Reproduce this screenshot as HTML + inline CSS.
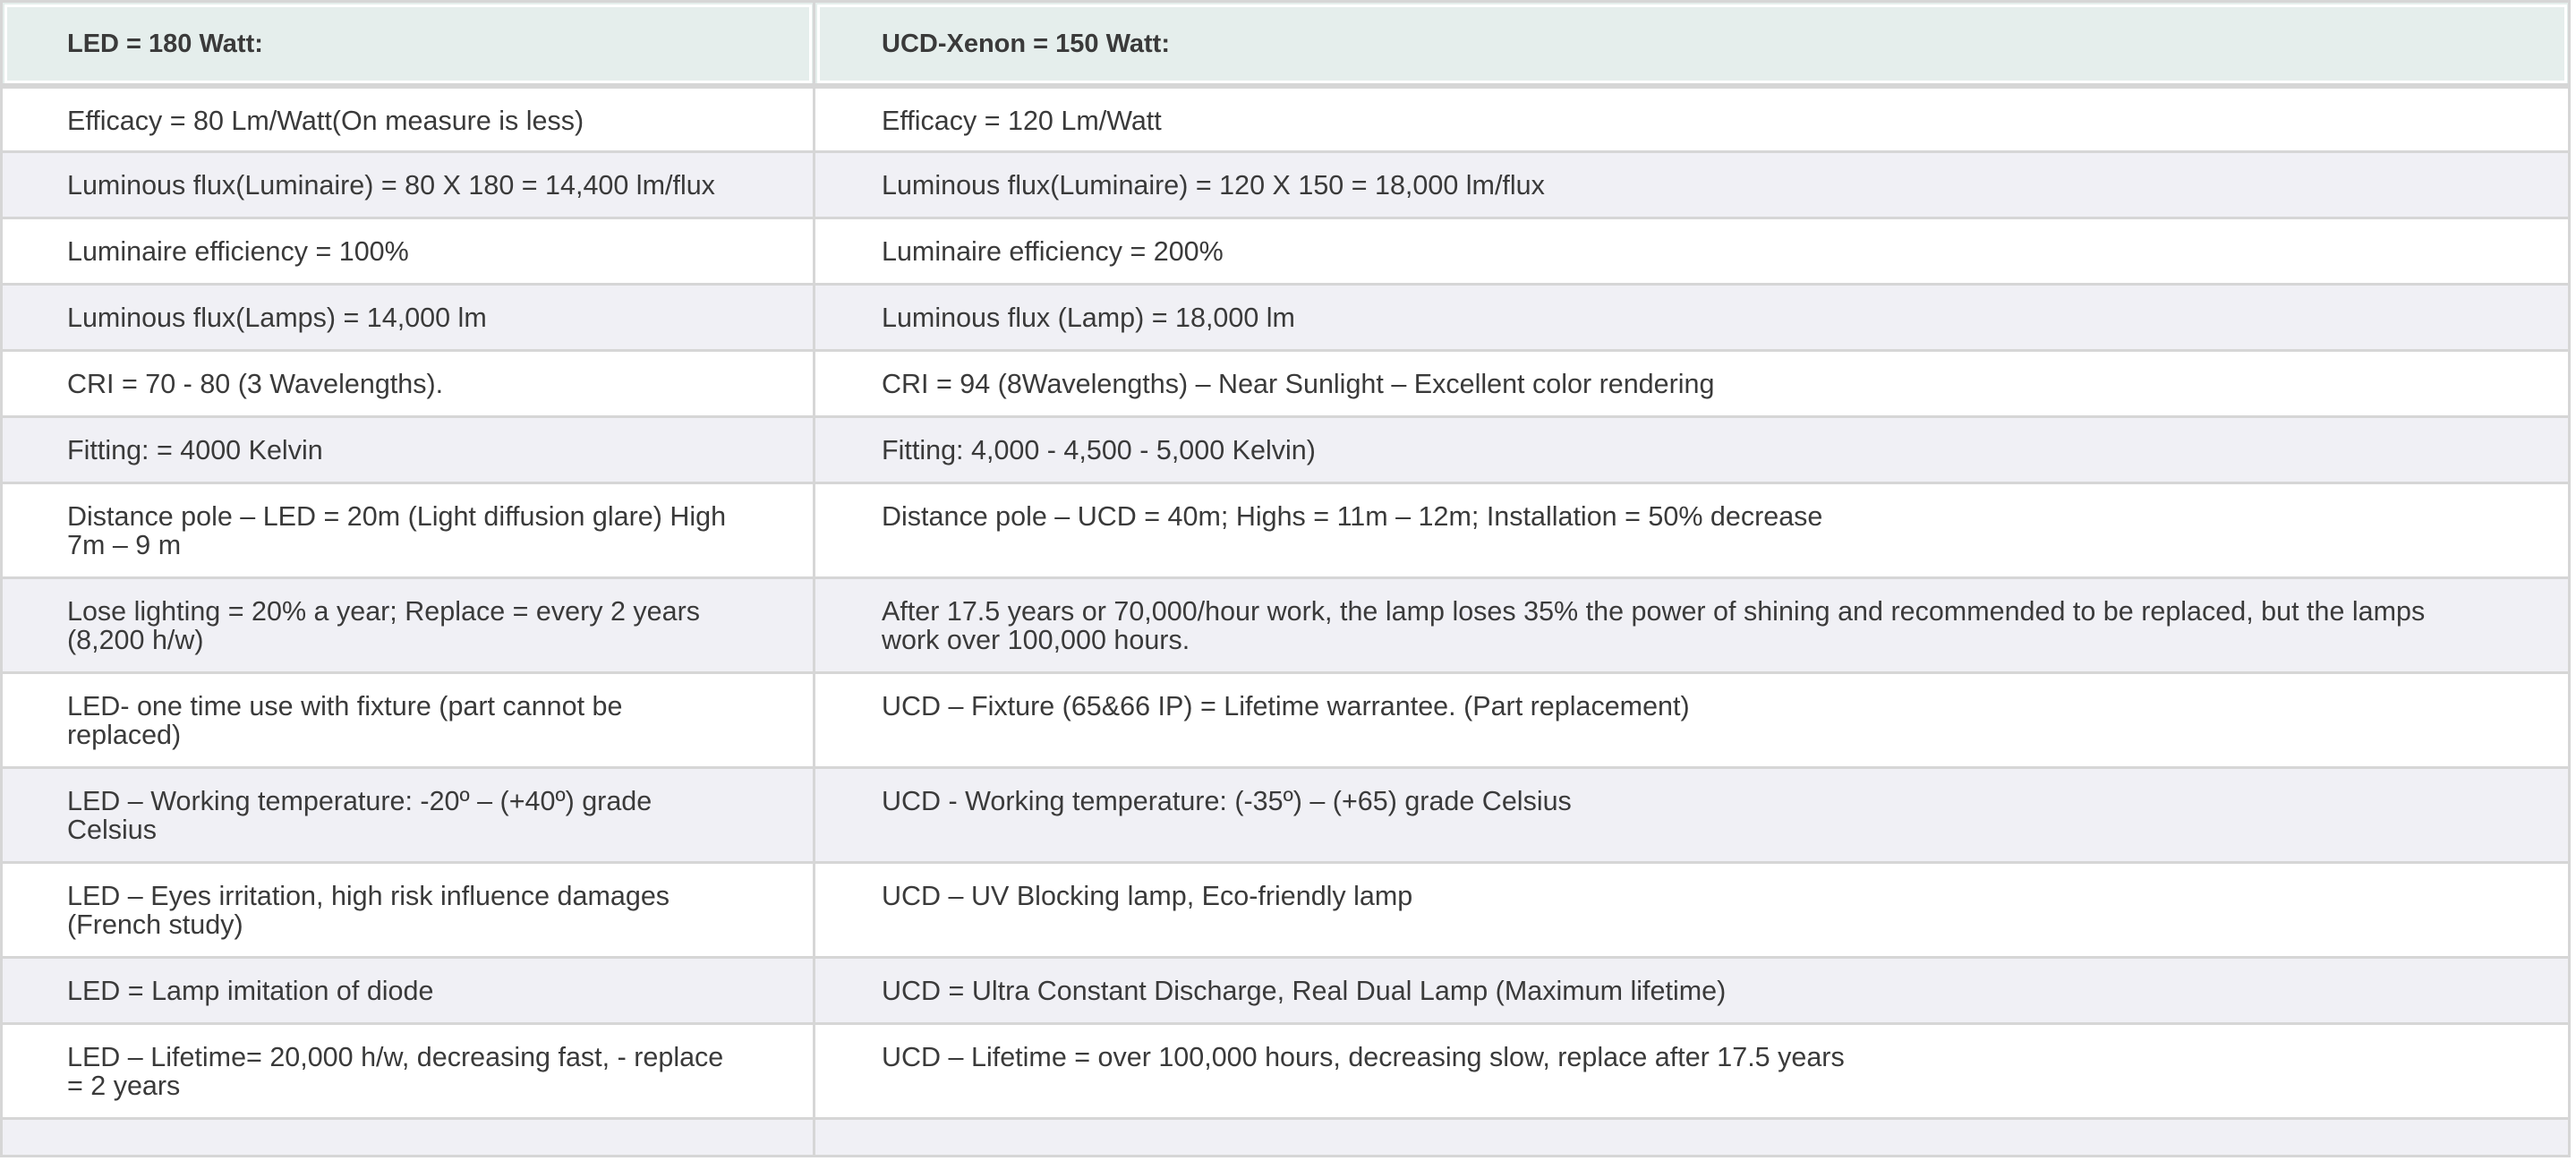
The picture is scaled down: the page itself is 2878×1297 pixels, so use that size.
<!DOCTYPE html>
<html><head><meta charset="utf-8"><style>
*{margin:0;padding:0;box-sizing:border-box}
body{width:2878px;height:1297px;background:#fff;font-family:"Liberation Sans",sans-serif;color:#3a3a3a;overflow:hidden}
table{position:absolute;left:0;top:0;width:2872px;border-collapse:collapse;table-layout:fixed}
td,th{border:3px solid #d6d6d6;vertical-align:top;font-size:30.5px;line-height:32px;text-align:left;font-weight:normal;padding:20px 0 0 72px;white-space:nowrap}
th{background:#e5eeec;font-weight:bold;font-size:29px;padding-top:30px;border-bottom:6px solid #d6d6d6;outline:3px solid #fff;outline-offset:-6px}
tr.a td{background:#f0f0f5}
td.r,th.r{padding-left:74px}
</style></head><body>
<table>
<colgroup><col style="width:908px"><col></colgroup>
<tr style="height:94px"><th>LED = 180 Watt:</th><th class="r">UCD-Xenon = 150 Watt:</th></tr>
<tr style="height:74px"><td>Efficacy = 80 Lm/Watt(On measure is less)</td><td class="r">Efficacy = 120 Lm/Watt</td></tr>
<tr class="a" style="height:74px"><td>Luminous flux(Luminaire) = 80 X 180 = 14,400 lm/flux</td><td class="r">Luminous flux(Luminaire) = 120 X 150 = 18,000 lm/flux</td></tr>
<tr style="height:74px"><td>Luminaire efficiency = 100%</td><td class="r">Luminaire efficiency = 200%</td></tr>
<tr class="a" style="height:74px"><td>Luminous flux(Lamps) = 14,000 lm</td><td class="r">Luminous flux (Lamp) = 18,000 lm</td></tr>
<tr style="height:74px"><td>CRI = 70 - 80 (3 Wavelengths).</td><td class="r">CRI = 94 (8Wavelengths) – Near Sunlight – Excellent color rendering</td></tr>
<tr class="a" style="height:74px"><td>Fitting: = 4000 Kelvin</td><td class="r">Fitting: 4,000 - 4,500 - 5,000 Kelvin)</td></tr>
<tr style="height:106px"><td>Distance pole – LED = 20m (Light diffusion glare) High<br>7m – 9 m</td><td class="r">Distance pole – UCD = 40m; Highs = 11m – 12m; Installation = 50% decrease</td></tr>
<tr class="a" style="height:106px"><td>Lose lighting = 20% a year; Replace = every 2 years<br>(8,200 h/w)</td><td class="r">After 17.5 years or 70,000/hour work, the lamp loses 35% the power of shining and recommended to be replaced, but the lamps<br>work over 100,000 hours.</td></tr>
<tr style="height:106px"><td>LED- one time use with fixture (part cannot be<br>replaced)</td><td class="r">UCD – Fixture (65&amp;66 IP) = Lifetime warrantee. (Part replacement)</td></tr>
<tr class="a" style="height:106px"><td>LED – Working temperature: -20º – (+40º) grade<br>Celsius</td><td class="r">UCD - Working temperature: (-35º) – (+65) grade Celsius</td></tr>
<tr style="height:106px"><td>LED – Eyes irritation, high risk influence damages<br>(French study)</td><td class="r">UCD – UV Blocking lamp, Eco-friendly lamp</td></tr>
<tr class="a" style="height:74px"><td>LED = Lamp imitation of diode</td><td class="r">UCD = Ultra Constant Discharge, Real Dual Lamp (Maximum lifetime)</td></tr>
<tr style="height:106px"><td>LED – Lifetime= 20,000 h/w, decreasing fast, - replace<br>= 2 years</td><td class="r">UCD – Lifetime = over 100,000 hours, decreasing slow, replace after 17.5 years</td></tr>
<tr class="a" style="height:42px"><td></td><td class="r"></td></tr>
</table>
</body></html>
